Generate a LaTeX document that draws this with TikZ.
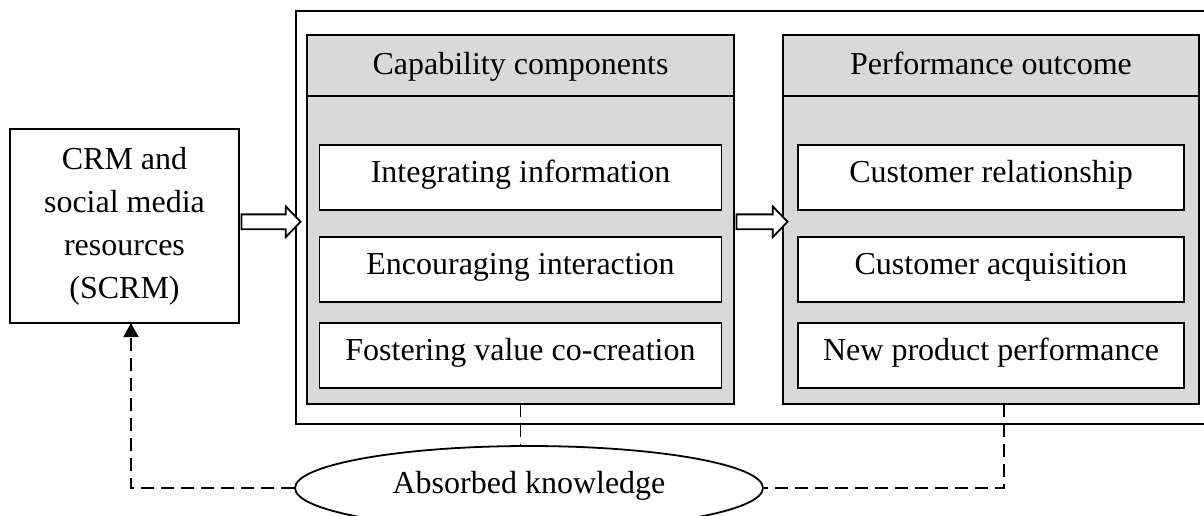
\documentclass[tikz,border=0pt]{standalone}
\usepackage{fontspec}
\setmainfont{Liberation Serif}
\usetikzlibrary{positioning, arrows.meta, shapes.geometric, shapes.arrows}
\definecolor{colPanel}{HTML}{D9D9D9}

\begin{document}
\begin{tikzpicture}[
    font=\fontsize{16pt}{21.5pt}\selectfont,
    line width=0.9pt,
    box/.style={draw, line width=0.9pt, align=center, inner sep=2pt, outer sep=0pt},
    resource/.style={box, minimum width=114.5pt, minimum height=97pt},
    panelhead/.style={box, fill=colPanel, minimum height=30.5pt,
                      text height=11pt, text depth=2.5pt},
    panelbody/.style={box, fill=colPanel, minimum height=154pt},
    item/.style={box, fill=white, minimum height=32.5pt,
                 text height=8pt, text depth=3pt},
    hollow/.style={single arrow, draw, fill=white, line width=0.9pt,
                   inner xsep=0pt, inner ysep=3.25pt, outer sep=0pt,
                   minimum width=14.5pt, single arrow head extend=4pt,
                   single arrow tip angle=92},
    fb/.style={line width=0.9pt, dash pattern=on 6.5pt off 3.5pt},
    knowledge/.style={ellipse, draw, fill=white, line width=0.9pt,
                      minimum width=234pt, minimum height=42pt, inner sep=0pt,
                      text height=8pt, text depth=3pt},
]
\useasboundingbox (0pt,0pt) rectangle (602pt,-257.5pt);

% ---- Frame round both panels -----------------------------------------------
\node[box, minimum width=455.5pt, minimum height=206.5pt] (outer) at (375.75pt,-108.75pt) {};

% ---- Resources ---------------------------------------------------------------
\node[resource] (scrm) at (62.25pt,-113pt) {CRM and\\social media\\resources\\(SCRM)};

% ---- Capability components ---------------------------------------------------
\node[panelhead, minimum width=213.5pt] (capHead) at (260.25pt,-32.75pt) {Capability components};
\node[panelbody, minimum width=213.5pt, below=0pt of capHead] (capBody) {};
\node[item, minimum width=201pt, below=24.5pt of capHead] (capA) {Integrating information};
\node[item, minimum width=201pt, below=13.5pt of capA]    (capB) {Encouraging interaction};
\node[item, minimum width=201pt, below=10.5pt of capB]    (capC) {Fostering value co-creation};

% ---- Performance outcome -----------------------------------------------------
\node[panelhead, minimum width=208pt] (perfHead) at (495.5pt,-32.75pt) {Performance outcome};
\node[panelbody, minimum width=208pt, below=0pt of perfHead] (perfBody) {};
\node[item, minimum width=193pt, below=24.5pt of perfHead] (perfA) {Customer relationship};
\node[item, minimum width=193pt, below=13.5pt of perfA]    (perfB) {Customer acquisition};
\node[item, minimum width=193pt, below=10.5pt of perfB]    (perfC) {New product performance};

% ---- Feedback ----------------------------------------------------------------
\node[knowledge] (absorb) at (264.5pt,-244pt) {Absorbed knowledge};

% ---- Arrows ------------------------------------------------------------------
\path (scrm.east) -- (outer.west)
    node[hollow, midway, minimum height=29.5pt] (link1) {};
\path (capBody.east |- link1) -- (perfBody.west |- link1)
    node[hollow, midway, minimum height=25.5pt] (link2) {};

\draw[fb] (capBody.south) -- (capBody.south |- absorb.north);
\draw[fb] ([xshift=6.5pt]perfBody.south) |- (absorb.east);
\draw[fb, -{Triangle[length=7pt, width=7.5pt]}] (absorb.west) -| ([xshift=3.25pt]scrm.south);

\end{tikzpicture}
\end{document}
